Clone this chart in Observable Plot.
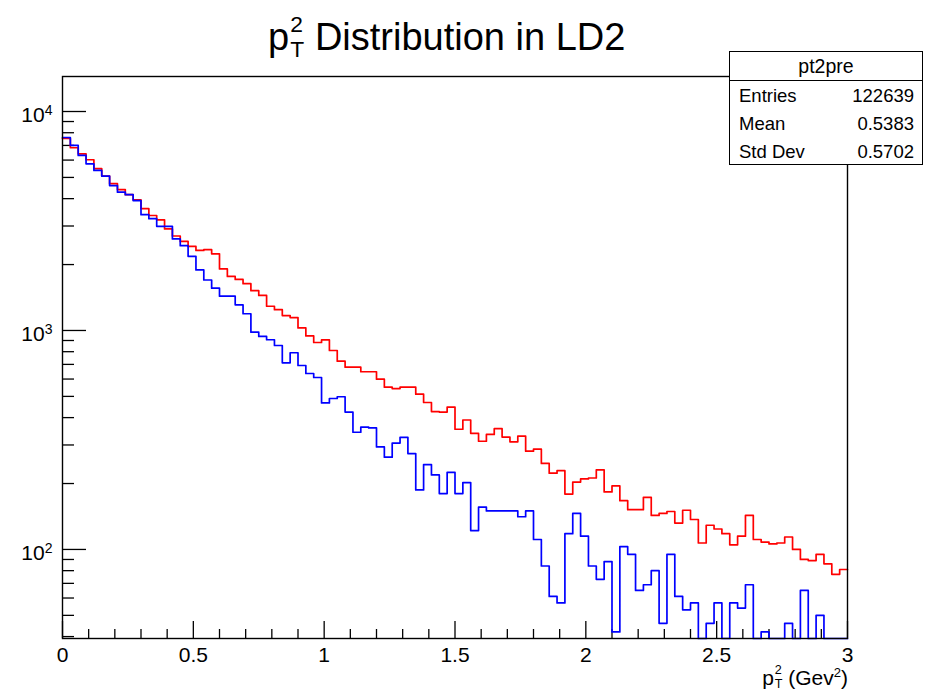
<!DOCTYPE html>
<html><head><meta charset="utf-8">
<script src="https://cdn.jsdelivr.net/npm/d3@7"></script>
<script src="https://cdn.jsdelivr.net/npm/@observablehq/plot@0.6"></script>
<style>
body{margin:0;background:#fff;font-family:"Liberation Sans",Arial,sans-serif;color:#000}
#wrap{position:relative;width:927px;height:690px;overflow:hidden;background:#fff}
#chart{position:absolute;left:0;top:0}
.stk{position:relative;display:inline-block;width:0.4em;height:1em}
.stk span{position:absolute;left:0.05em;line-height:1;font-size:0.6em}
#title{position:absolute;left:268px;top:12px;font-size:38px;line-height:1;white-space:nowrap}
#title .u{top:1px}#title .d{top:26px}
#xlab{position:absolute;right:79px;top:664px;font-size:21px;line-height:1;white-space:nowrap}
#xlab .u{top:0px}#xlab .d{top:14px}
#xlab sup{font-size:0.62em;vertical-align:0.6em;line-height:0}
#stats{position:absolute;left:729px;top:51px;width:194px;height:114px;border:1.3px solid #000;background:#fff;box-sizing:border-box;font-size:18.5px}
#stats .hd{height:29px;border-bottom:1.3px solid #000;text-align:center;line-height:29px;font-size:19.5px;box-sizing:border-box}
#stats .row{display:flex;justify-content:space-between;padding:0 8px 0 9px;height:28px;line-height:29px}
</style></head><body>
<div id="wrap">
<div id="chart"></div>
<div id="title">p<span class="stk"><span class="u">2</span><span class="d">T</span></span> Distribution in LD2</div>
<div id="stats"></div>
<div id="xlab">p<span class="stk"><span class="u">2</span><span class="d">T</span></span> (Gev<sup>2</sup>)</div>
</div>
<script>
// bin layout: 100 bins from 0 to 3
const xMin = 0, xMax = 3, nBins = 100;
// red histogram contents (per bin)
const redCounts = [7530, 6830, 6410, 6020, 5480, 5070, 4680, 4400, 4170, 3950,
  3600, 3350, 3200, 2910, 2700, 2550, 2420, 2320, 2340, 2240,
  1910, 1765, 1710, 1635, 1520, 1445, 1290, 1245, 1170, 1145,
  1027, 944, 881, 905, 810, 724, 680, 680, 648, 648,
  599, 551, 543, 551, 551, 512, 469, 426, 424, 447,
  354, 390, 339, 312, 335, 356, 326, 310, 329, 281,
  287, 247, 223, 229, 179, 203, 210, 212, 231, 183,
  195, 167, 152, 152, 173, 143, 146, 149, 132, 151,
  137, 107, 129, 124, 118, 105, 115, 143, 111, 108,
  106, 107, 114, 100, 90, 89, 95, 86, 77, 81];
// blue histogram contents (per bin)
const blueCounts = [7610, 7000, 6300, 5770, 5380, 5070, 4590, 4280, 4170, 3920,
  3380, 3240, 2990, 2990, 2620, 2440, 2180, 1890, 1700, 1560,
  1434, 1434, 1310, 1192, 982, 939, 907, 854, 712, 791,
  692, 636, 610, 467, 489, 498, 424, 343, 362, 359,
  294, 264, 306, 325, 274, 187, 244, 219, 180, 225,
  180, 202, 122, 156, 150, 150, 150, 150, 141, 150,
  111, 84, 61, 57, 118, 146, 115, 84, 73, 88,
  42, 103, 95, 65, 69, 80, 46, 95, 61, 53,
  57, 0, 46, 57, 0, 57, 54, 69, 0, 42,
  0, 0, 46, 0, 65, 0, 50, 0, 0, 0];
// stats box
const statsTitle = "pt2pre";
const statsLabels = ["Entries", "Mean", "Std Dev"];
const statsValues = ["122639", "0.5383", "0.5702"];
// axis ticks
const xMajor = [0, 0.5, 1, 1.5, 2, 2.5, 3];
const xTickLabels = ["0", "0.5", "1", "1.5", "2", "2.5", "3"];
const yMajor = [100, 1000, 10000];
const yTickBase = "10";
const yTickExp = ["2", "3", "4"];
const yDomain = [39.2, 14450];

const binW = (xMax - xMin) / nBins;
const xMinor = d3.range(1, 30).filter(i => i % 5 !== 0).map(i => i / 10);
const yMinor = [];
for (const dec of [10, 100, 1000]) for (let m = 2; m <= 9; m++) { const v = m * dec; if (v >= yDomain[0] && v <= yDomain[1]) yMinor.push(v); }

function steps(counts) {
  const pts = counts.map((v, i) => ({x: xMin + i * binW, v}));
  pts.push({x: xMax, v: counts[counts.length - 1]});
  return pts;
}

const W = 927, H = 690, mL = 62, mR = 80, mT = 76, mB = 52;
const fW = W - mL - mR, fH = H - mT - mB;

const chart = Plot.plot({
  width: W, height: H,
  marginLeft: mL, marginRight: mR, marginTop: mT, marginBottom: mB,
  style: {fontFamily: "'Liberation Sans', Arial, sans-serif", fontSize: "20px", color: "#000", background: "transparent", overflow: "visible"},
  x: {domain: [xMin, xMax]},
  y: {type: "log", domain: yDomain, clamp: true},
  marks: [
    Plot.tickY(yMinor, {y: d => d, insetRight: fW - 12, stroke: "#000", strokeWidth: 1.3}),
    Plot.tickY(yMajor, {y: d => d, insetRight: fW - 24, stroke: "#000", strokeWidth: 1.3}),
    Plot.tickX(xMinor, {x: d => d, insetTop: fH - 9, stroke: "#000", strokeWidth: 1.3}),
    Plot.tickX(xMajor, {x: d => d, insetTop: fH - 17, stroke: "#000", strokeWidth: 1.3}),
    Plot.axisY({ticks: yMajor, tickSize: 0, tickPadding: 10, dy: 4, fontSize: 21, label: null,
      tickFormat: d => yTickBase + "^" + yTickExp[yMajor.indexOf(d)]}),
    Plot.axisX({ticks: xMajor, tickSize: 0, tickPadding: 9, fontSize: 21, label: null,
      tickFormat: d => xTickLabels[xMajor.indexOf(d)]}),
    Plot.line(steps(redCounts), {x: "x", y: "v", curve: "step-after", stroke: "#ff0000", strokeWidth: 1.7}),
    Plot.line(steps(blueCounts), {x: "x", y: "v", curve: "step-after", stroke: "#0000ff", strokeWidth: 1.7}),
    Plot.frame({stroke: "#000", strokeWidth: 1.4})
  ]
});
// render "10^n" as base + raised exponent
chart.querySelectorAll('g[aria-label="y-axis tick label"] text').forEach(t => {
  const s = t.textContent;
  const k = s.indexOf("^");
  if (k < 0) return;
  t.textContent = "";
  const ns = "http://www.w3.org/2000/svg";
  const a = document.createElementNS(ns, "tspan"); a.textContent = s.slice(0, k);
  const b = document.createElementNS(ns, "tspan"); b.textContent = s.slice(k + 1);
  b.setAttribute("dy", "-0.5em"); b.setAttribute("font-size", "14px");
  t.appendChild(a); t.appendChild(b);
});
document.getElementById("chart").appendChild(chart);

const st = document.getElementById("stats");
const hd = document.createElement("div"); hd.className = "hd"; hd.textContent = statsTitle; st.appendChild(hd);
statsLabels.forEach((lab, i) => {
  const r = document.createElement("div"); r.className = "row";
  const a = document.createElement("span"); a.textContent = lab;
  const b = document.createElement("span"); b.textContent = statsValues[i];
  r.appendChild(a); r.appendChild(b); st.appendChild(r);
});
</script>
</body></html>
